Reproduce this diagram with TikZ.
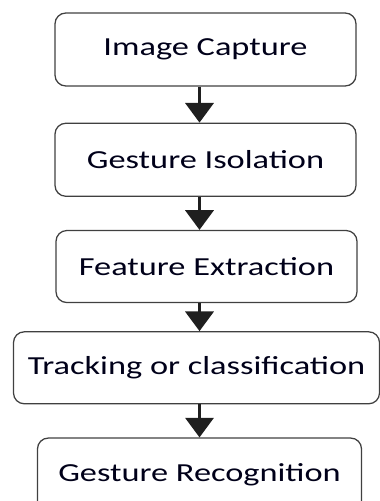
\documentclass[tikz,border=0pt]{standalone}
\usepackage{fontspec}
\setmainfont{Carlito}[FakeStretch=1.32]
\usetikzlibrary{arrows.meta, positioning}

\begin{document}
\begin{tikzpicture}[
    node distance=0.85cm,
    stage/.style={rectangle, rounded corners=0.27cm, draw=black!75, line width=0.9pt, text=black!90!blue, minimum width=7.525cm, minimum height=1.825cm, align=center, font=\fontsize{18.5}{22}\selectfont},
    arrow/.style={draw=black!88, line width=2.4pt, -{Triangle[width=20pt, length=14pt]}}
]
\useasboundingbox (0,0) rectangle (9.5,-12.525);

% Nodes
\node (capture) [stage] at (5.1375,-1.2375) {Image Capture};
\node (isolation) [stage, below=0.9cm of capture] {Gesture Isolation};
\node (feature) [stage, below=0.825cm of isolation, xshift=0.025cm, minimum height=1.8cm] {Feature Extraction};
\node (tracking) [stage, below=0.7cm of feature, xshift=-0.25cm, minimum width=9.15cm, minimum height=1.8cm] {Tracking or classification};
\node (recog) [stage, below=0.825cm of tracking, xshift=0.075cm, minimum width=8.1cm, minimum height=1.85cm] {Gesture Recognition};

% Arrows
\draw [arrow] (capture.south -| recog.north) -- (isolation.north -| recog.north);
\draw [arrow] (isolation.south -| recog.north) -- (feature.north -| recog.north);
\draw [arrow] (feature.south -| recog.north) -- (tracking.north -| recog.north);
\draw [arrow] (tracking.south -| recog.north) -- (recog.north);

\end{tikzpicture}
\end{document}
